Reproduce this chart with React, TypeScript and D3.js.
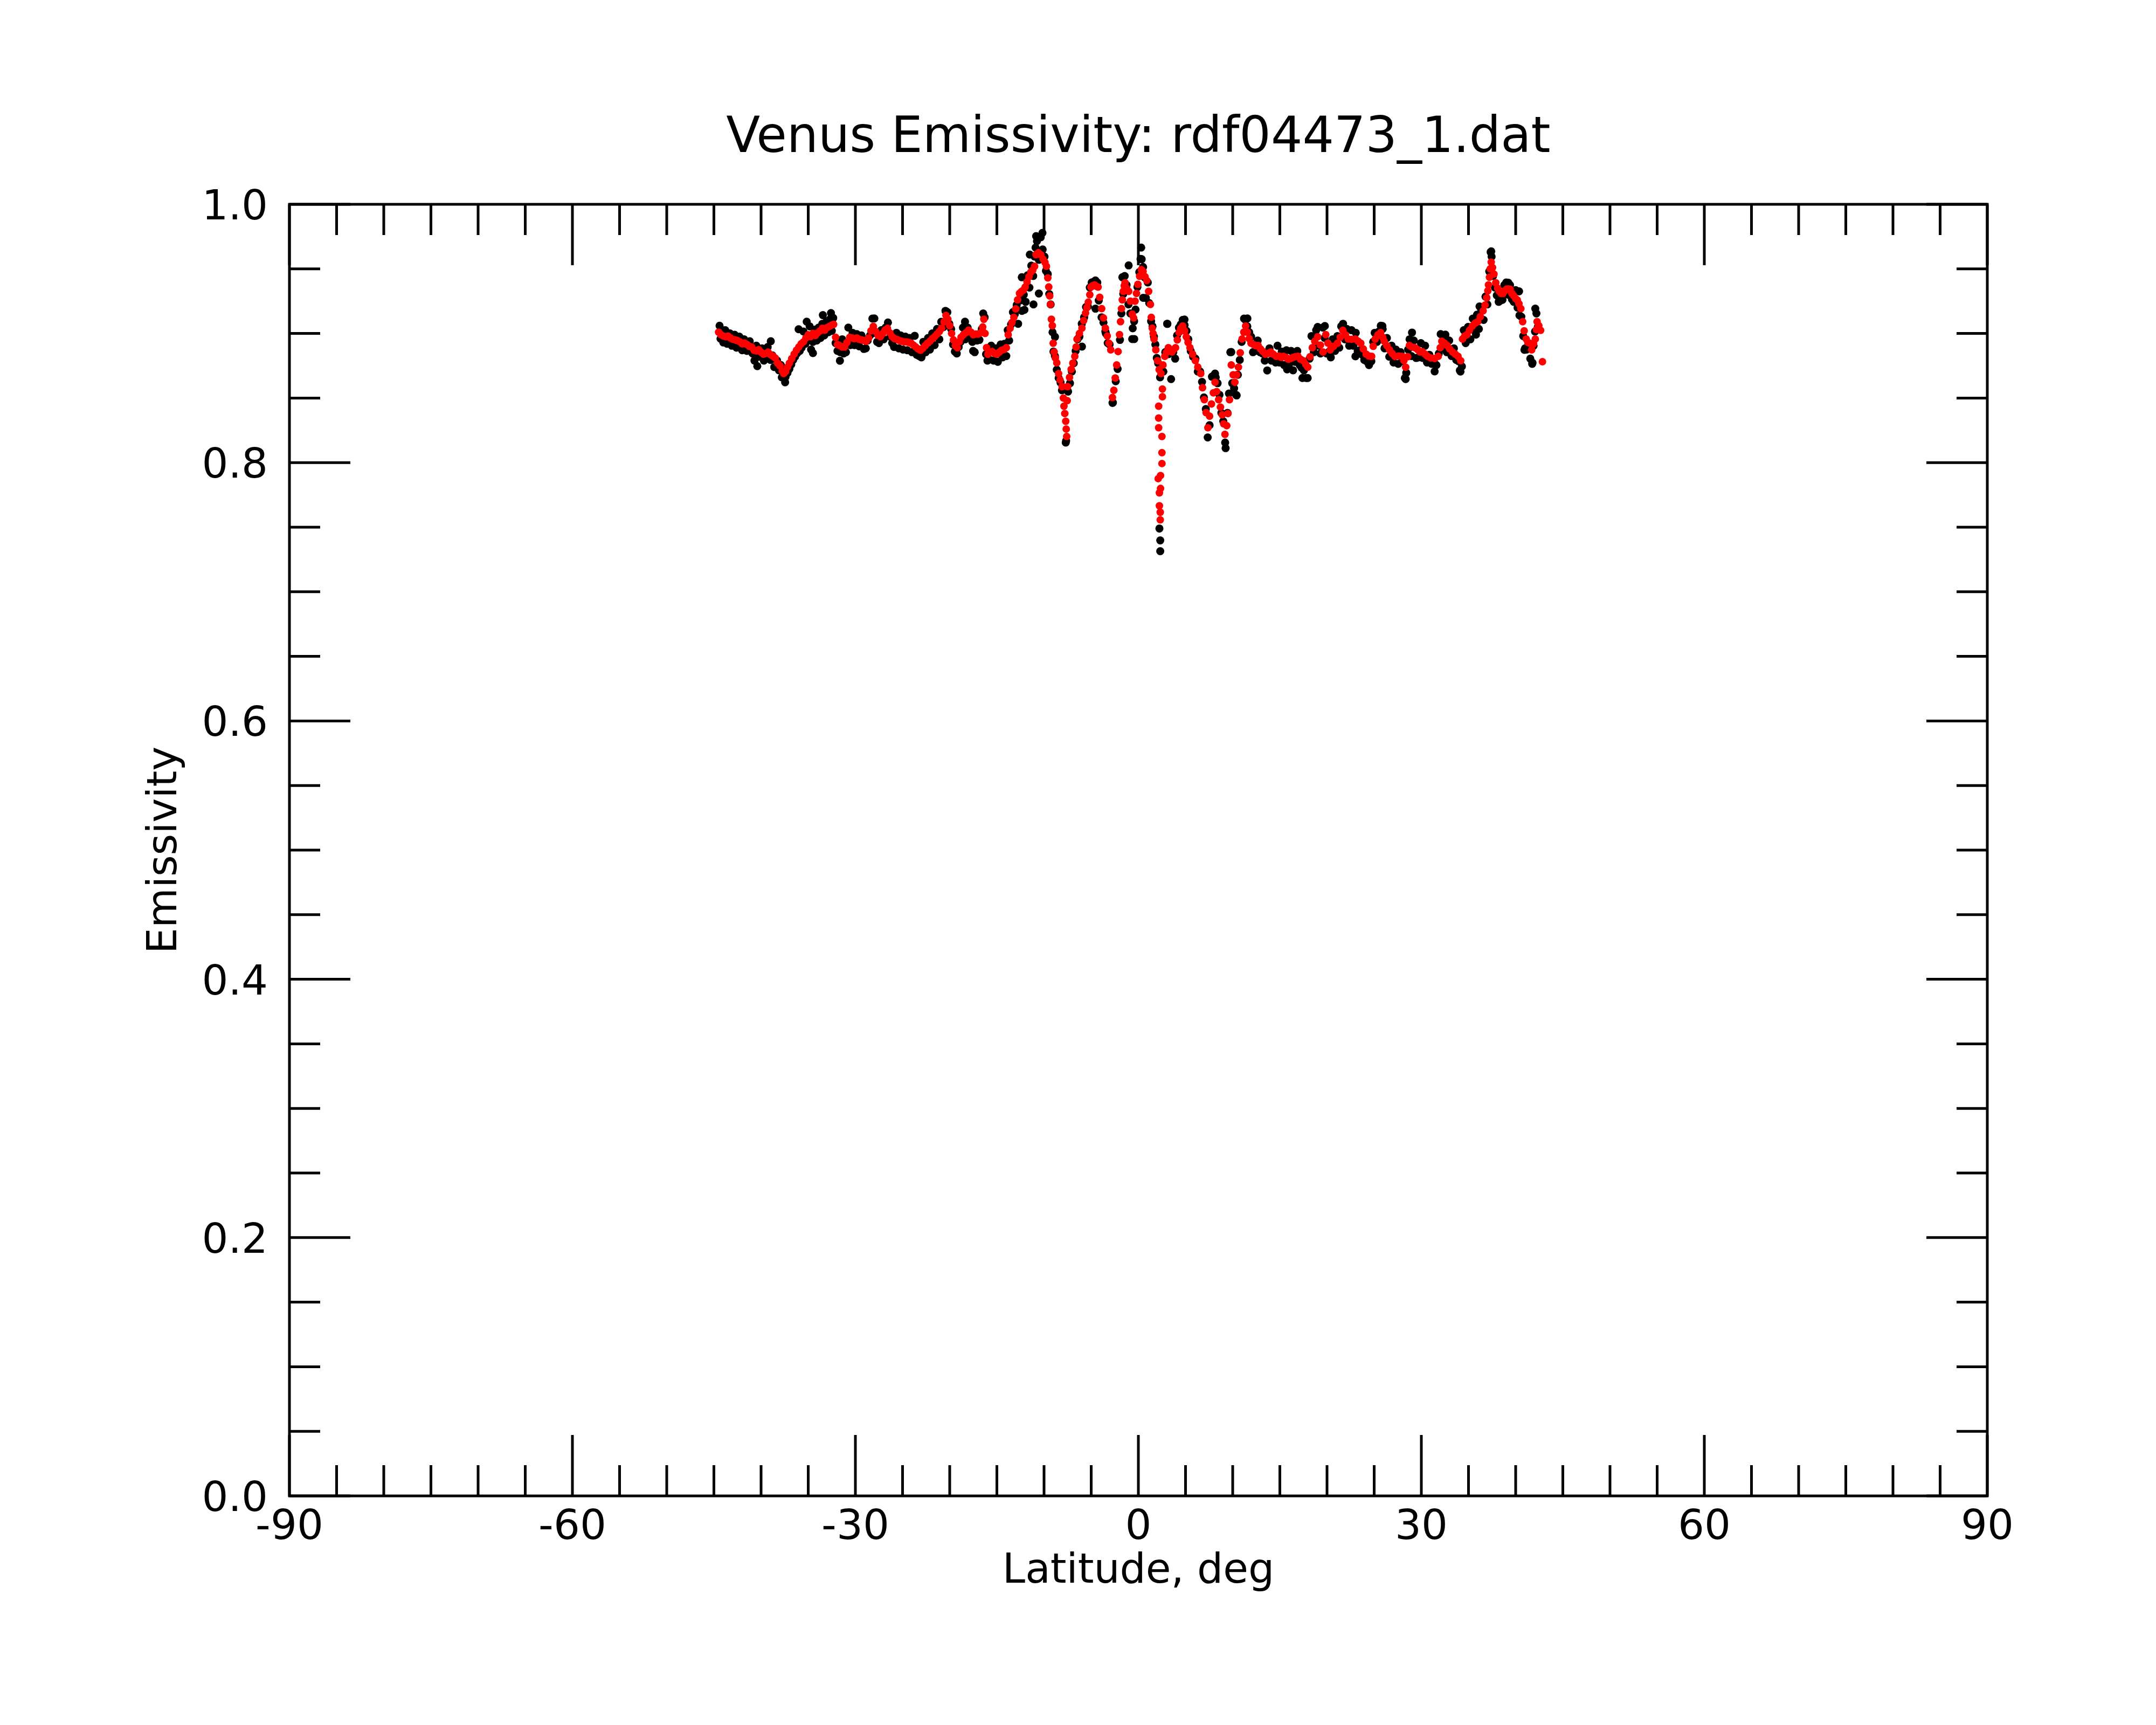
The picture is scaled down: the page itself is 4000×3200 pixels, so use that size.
import React from "react";
import * as d3 from "d3";

// ---- data ----
const titleText = "Venus Emissivity: rdf04473_1.dat";
const xLabel = "Latitude, deg";
const yLabel = "Emissivity";
const xMajorTicks = [-90, -60, -30, 0, 30, 60, 90];
const xTickLabels = ["-90", "-60", "-30", "0", "30", "60", "90"];
const yMajorTicks = [0.0, 0.2, 0.4, 0.6, 0.8, 1.0];
const yTickLabels = ["0.0", "0.2", "0.4", "0.6", "0.8", "1.0"];

// smoothed / second series (red)
const redPoints: [number, number][] = [
  [-44.5, .901], [-44.25, .899], [-44.0, .898], [-43.75, .8975], [-43.5, .898], [-43.25, .8965], [-43.0, .8955], [-42.75, .895], [-42.5, .8945], [-42.25, .8935], [-42.0, .892], [-41.75, .8925], [-41.5, .8915], [-41.25, .890], [-41.0, .8895], [-40.75, .887], [-40.5, .8865], [-40.25, .8875], [-40.0, .8855], [-39.75, .884], [-39.5, .8845], [-39.25, .8855], [-39.0, .8835], [-38.75, .8825], [-38.5, .881], [-38.25, .877], [-38.0, .875], [-37.75, .871], [-37.6, .869], [-37.4, .8705], [-37.2, .874], [-37.0, .877], [-36.75, .8805], [-36.5, .884], [-36.25, .887], [-36.0, .8895], [-35.75, .892], [-35.5, .8935], [-35.25, .8965], [-35.0, .899], [-34.75, .8975], [-34.5, .9], [-34.25, .8985], [-34.0, .9005], [-33.75, .902], [-33.5, .904], [-33.25, .9025], [-33.0, .9045], [-32.75, .9055], [-32.5, .9065], [-32.3, .907], [-32.1, .897], [-31.9, .8915], [-31.65, .8905], [-31.4, .8895], [-31.15, .8895],
  [-30.9, .893], [-30.6, .897], [-30.35, .8965], [-30.1, .896], [-29.85, .8965], [-29.6, .8955], [-29.35, .895], [-29.1, .8945], [-28.85, .894], [-28.6, .8965], [-28.35, .902], [-28.1, .9055], [-27.85, .9015], [-27.6, .8985], [-27.35, .8975], [-27.1, .900], [-26.85, .9025], [-26.6, .904], [-26.35, .9005], [-26.1, .8975], [-25.85, .896], [-25.6, .8955], [-25.35, .8945], [-25.1, .894], [-24.85, .8935], [-24.6, .8935], [-24.35, .893], [-24.1, .8925], [-23.85, .891], [-23.6, .8895], [-23.35, .888], [-23.1, .887], [-22.85, .8885], [-22.6, .8905], [-22.35, .8925], [-22.1, .894], [-21.85, .896], [-21.6, .8975], [-21.35, .8995], [-21.1, .9015], [-20.85, .904], [-20.6, .909], [-20.4, .914], [-20.2, .911], [-20.0, .906], [-19.8, .900], [-19.6, .895], [-19.4, .8905], [-19.2, .889], [-19.0, .8935], [-18.8, .897], [-18.55, .899], [-18.3, .9005], [-18.0, .9025], [-17.75, .901], [-17.5, .899], [-17.25, .8995], [-17.0, .8995], [-16.75, .9005], [-16.5, .905], [-16.38, .911], [-16.25, .9], [-16.1, .889], [-15.95, .884],
  [-15.75, .8855], [-15.5, .886], [-15.25, .8845], [-15.0, .884], [-14.75, .8855], [-14.5, .887], [-14.25, .8875], [-14.0, .889], [-13.8, .899], [-13.6, .904], [-13.4, .9085], [-13.2, .9125], [-13.0, .919], [-12.8, .926], [-12.6, .931], [-12.4, .9325], [-12.2, .9335], [-12.0, .936], [-11.8, .940], [-11.6, .944], [-11.4, .9475], [-11.2, .949], [-11.0, .952], [-10.85, .961], [-10.6, .9625], [-10.35, .961], [-10.1, .9575], [-9.9, .955], [-9.75, .952], [-9.6, .943], [-9.5, .936], [-9.4, .929], [-9.32, .9225], [-9.22, .911], [-9.12, .906], [-9.03, .8924], [-8.93, .8856], [-8.8, .881], [-8.65, .8773], [-8.46, .8689], [-8.3, .864], [-8.08, .8588], [-7.95, .850], [-7.89, .8437], [-7.8, .838], [-7.7, .832], [-7.65, .826], [-7.6, .8202], [-7.55, .848], [-7.5, .8588], [-7.3, .866], [-7.12, .8722], [-6.95, .877], [-6.74, .8823], [-6.6, .8895], [-6.5, .8957], [-6.25, .900], [-5.98, .9041], [-5.8, .910], [-5.6, .9158], [-5.45, .920], [-5.31, .9242], [-5.15, .930], [-5.03, .9359], [-4.85, .937], [-4.65, .9376], [-4.45, .9365], [-4.27, .9359], [-4.1, .928], [-3.89, .9192], [-3.7, .912], [-3.5, .9041], [-3.3, .898], [-3.12, .8924], [-2.93, .8873],
  [-2.75, .8504], [-2.6, .856], [-2.45, .8655], [-2.3, .8756], [-2.15, .886], [-2.0, .8991], [-1.89, .9091], [-1.79, .9192], [-1.7, .926], [-1.6, .9326], [-1.5, .937], [-1.41, .9393], [-1.25, .935], [-1.03, .9326], [-0.85, .925], [-0.65, .915], [-0.5, .912], [-0.35, .925], [-0.2, .931], [-0.05, .938], [0.13, .9443], [0.32, .9494], [0.5, .948], [0.7, .944], [0.89, .941], [1.09, .9326], [1.28, .9225], [1.37, .9125], [1.47, .9041], [1.56, .9], [1.66, .8957], [1.85, .8873], [2.04, .8789], [2.2, .872], [2.4, .8689],
  [2.55, .857], [2.55, .851], [2.15, .8437], [2.15, .8345], [2.15, .827], [2.5, .8202], [2.5, .8077], [2.5, .7993], [2.1, .7876], [2.35, .790], [2.23, .7766], [2.35, .780], [2.23, .7666], [2.32, .7616], [2.32, .7557],
  [2.61, .8756], [2.8, .8823], [3.0, .8855], [3.18, .889], [3.37, .887], [3.56, .8856], [3.75, .8875], [3.94, .889], [4.13, .895], [4.32, .9007], [4.5, .904], [4.7, .9058], [4.9, .902], [5.08, .8974], [5.27, .893], [5.47, .889], [5.75, .884], [6.04, .8789], [6.3, .874], [6.61, .8689], [6.8, .858], [6.99, .8487], [7.18, .8387], [7.37, .827], [7.55, .836], [7.75, .8454], [7.95, .854], [8.13, .8622], [8.3, .855], [8.51, .8487], [8.7, .843], [8.89, .837], [9.05, .830], [9.18, .8219], [9.37, .8286], [9.5, .838], [9.66, .8487], [9.85, .8756], [10.05, .868], [10.23, .8622], [10.42, .868], [10.61, .8739], [10.8, .885], [10.99, .8957], [11.18, .901], [11.37, .9058], [11.55, .901], [11.75, .896], [11.94, .8924], [12.2, .8915], [12.45, .8905], [12.7, .8907], [12.95, .888], [13.2, .886], [13.47, .884], [13.75, .8845], [14.04, .8856], [14.3, .884], [14.61, .8823],
  [14.9, .8825], [15.15, .8815], [15.39, .8823], [15.65, .8815], [15.9, .880], [16.15, .8806], [16.4, .8815], [16.65, .882], [16.92, .8823], [17.2, .880], [17.49, .8789], [17.75, .876], [17.96, .8739], [18.2, .882], [18.44, .889], [18.7, .894], [19.01, .8974], [19.3, .891], [19.58, .8856], [19.87, .8991], [20.1, .8925], [20.34, .8873], [20.7, .890], [21.11, .8924], [21.4, .897], [21.68, .9024], [21.95, .899], [22.25, .8957], [22.6, .8955], [23.01, .8957], [23.3, .894], [23.58, .8924], [23.85, .888], [24.15, .884], [24.45, .8825], [24.73, .8823], [24.9, .890], [25.11, .8957], [25.4, .899], [25.68, .9007], [25.9, .897], [26.06, .894], [26.35, .8905], [26.63, .8873], [26.9, .8845], [27.2, .8823], [27.6, .8825], [27.96, .8823], [28.15, .879], [28.34, .8739], [28.55, .882], [28.73, .8907], [29.0, .8895], [29.3, .889], [29.6, .8875], [29.87, .8856],
  [30.1, .886], [30.4, .884], [30.65, .8823], [31.0, .881], [31.41, .8806], [31.79, .8823], [32.0, .889], [32.17, .894], [32.45, .8925], [32.74, .8907], [33.0, .888], [33.31, .8856], [33.6, .884], [33.89, .8823], [34.17, .8789], [34.36, .8957], [34.6, .898], [34.84, .8991], [35.1, .9025], [35.41, .9058], [35.7, .908], [35.98, .9091], [36.25, .913], [36.55, .9175], [36.75, .922], [36.93, .9276], [37.05, .933], [37.12, .9376], [37.22, .9435], [37.3, .950], [37.41, .9552], [37.55, .951], [37.7, .946], [37.89, .9393], [38.1, .935], [38.27, .9326], [38.45, .931], [38.65, .9309], [38.85, .933], [39.03, .9343], [39.2, .9345], [39.41, .9343], [39.6, .931], [39.79, .9292], [40.0, .927], [40.17, .9259], [40.35, .923], [40.55, .9192], [40.74, .9091], [40.9, .902], [41.12, .8957], [41.3, .893], [41.5, .8924], [41.7, .8873], [41.9, .892], [42.08, .8957], [42.2, .903], [42.27, .9091], [42.45, .906], [42.65, .9024], [42.84, .8781],
];

// raw series (black)
const blackPoints: [number, number][] = [
  [-44.4, .906], [-44.3, .896], [-44.0, .893], [-43.8, .9025], [-43.6, .892], [-43.3, .900], [-43.1, .8905], [-42.8, .899], [-42.6, .889], [-42.3, .8975], [-42.0, .887], [-41.8, .8955], [-41.5, .8865], [-41.2, .894], [-40.9, .8845], [-40.7, .879], [-40.5, .8905], [-40.2, .882], [-39.9, .8885], [-39.7, .879], [-39.5, .8805], [-39.3, .8895], [-39.0, .8795], [-38.8, .883], [-38.6, .874], [-38.3, .879], [-38.1, .8715], [-37.9, .8755], [-37.8, .866], [-37.55, .8655], [-37.4, .8665], [-37.2, .8695], [-37.0, .8725], [-36.8, .876], [-36.6, .8795], [-36.4, .882], [-36.2, .8845], [-35.9, .8865], [-35.7, .889], [-35.5, .9015], [-35.3, .892], [-35.0, .8945], [-34.85, .9055], [-34.7, .8875], [-34.5, .8935], [-34.3, .903], [-34.1, .8945], [-33.9, .9045], [-33.7, .8965], [-33.5, .9075], [-33.3, .8985], [-33.05, .9095], [-32.85, .901], [-32.7, .911], [-32.5, .902], [-32.35, .912], [-32.1, .8925], [-31.9, .8865], [-31.6, .8855], [-31.4, .8955], [-31.25, .8845],
  [-40.4, .8747], [-38.97, .894], [-37.45, .8622], [-35.16, .9091], [-34.5, .8848], [-33.45, .9142], [-32.59, .9158], [-31.64, .8789], [-36.02, .9033],
  [-31.0, .8855], [-30.75, .9045], [-30.55, .891], [-30.3, .9005], [-30.1, .891], [-29.85, .8995], [-29.6, .890], [-29.35, .8985], [-29.1, .888], [-28.9, .8885], [-28.7, .8945], [-28.45, .8985], [-28.2, .9115], [-28.0, .9005], [-27.7, .8935], [-27.5, .8925], [-27.25, .9025], [-27.0, .8955], [-26.8, .9045], [-26.55, .9085], [-26.3, .8975], [-26.1, .8925], [-25.9, .8895], [-25.65, .9005], [-25.4, .8885], [-25.2, .8985], [-24.95, .8875], [-24.7, .8975], [-24.5, .887], [-24.25, .8965], [-24.0, .8855], [-23.75, .8855], [-23.5, .8835], [-23.25, .8825], [-23.0, .8815], [-22.8, .8935], [-22.55, .8855], [-22.3, .8965], [-22.1, .8875], [-21.85, .900], [-21.6, .891], [-21.35, .9035], [-21.1, .8955], [-20.9, .909], [-20.65, .905], [-20.45, .9175], [-20.25, .9165], [-20.05, .9075], [-19.85, .9035], [-19.65, .8915], [-19.45, .886], [-19.25, .8845], [-19.05, .8895], [-18.85, .8935], [-18.6, .9045], [-18.35, .8955], [-18.1, .9045], [-17.85, .8965], [-17.6, .8935], [-17.35, .8855], [-17.1, .8945], [-16.85, .895], [-16.6, .9035], [-16.45, .9155], [-16.3, .9125], [-16.15, .884], [-16.0, .879],
  [-27.99, .9116], [-23.71, .8982], [-22.95, .8831], [-18.38, .9091], [-17.52, .8865],
  [-15.85, .880], [-15.6, .8905], [-15.35, .879], [-15.1, .8885], [-14.9, .878], [-14.6, .8915], [-14.4, .8815], [-14.2, .892], [-14.0, .8825], [-13.85, .9025], [-13.7, .8945], [-13.5, .907], [-13.3, .9165], [-13.1, .915], [-12.9, .922], [-12.75, .9075], [-12.55, .9255], [-12.35, .9175], [-12.15, .930], [-11.95, .9245], [-11.75, .945], [-11.55, .9355], [-11.35, .9525], [-11.15, .9445], [-11.0, .9595], [-10.9, .9665], [-10.75, .9715], [-10.55, .957], [-10.35, .9745], [-10.15, .965], [-9.95, .9595], [-9.8, .9485], [-9.6, .946], [-9.45, .9305], [-9.3, .9225], [-9.1, .901], [-9.0, .886], [-8.85, .8825], [-8.65, .872], [-8.45, .8655], [-8.25, .862], [-8.1, .856], [-7.7, .8155], [-7.45, .855], [-7.25, .8615], [-7.05, .8705], [-6.85, .877], [-6.65, .8865], [-6.45, .8955], [-6.25, .8975], [-6.0, .9075], [-5.75, .9125], [-5.55, .9205], [-5.35, .921], [-5.15, .9355], [-4.95, .9395], [-4.75, .940], [-4.55, .941], [-4.35, .9395], [-4.2, .9255], [-3.9, .9125], [-3.7, .9085], [-3.45, .900], [-3.25, .8925], [-3.05, .8915], [-2.7, .8465], [-2.4, .863], [-2.2, .8725], [-1.95, .895], [-1.8, .9155], [-1.6, .9305], [-1.45, .9445], [-1.25, .9375], [-1.05, .9225], [-0.85, .9155],
  [-10.84, .9754], [-10.17, .9779], [-11.51, .9611], [-12.36, .9435], [-12.08, .9183], [-11.12, .9225], [-10.55, .9309], [-1.03, .9527], [-1.7, .9435], [-0.65, .8957], [-2.74, .8462], [-7.66, .8169], [-8.84, .8974], [-4.55, .9192], [-3.5, .9016], [-5.98, .8898],
  [-0.6, .904], [-0.45, .9095], [-0.3, .9185], [-0.1, .936], [0.1, .9475], [0.3, .9665], [0.35, .9575], [0.5, .9515], [0.65, .9435], [0.8, .9275], [1.0, .9395], [1.15, .9235], [1.35, .9095], [1.5, .9055], [1.65, .8975], [1.8, .8915], [1.95, .881], [2.1, .877], [2.3, .866], [2.23, .749], [2.32, .7398], [2.32, .7314], [2.65, .8705], [2.85, .8855], [3.05, .9075], [3.2, .884], [3.45, .8865], [3.7, .8855], [3.9, .8805], [4.1, .8985], [4.3, .9045], [4.5, .907], [4.7, .9105], [4.9, .9065], [5.1, .902], [5.3, .8955], [5.55, .8865], [5.8, .882], [6.05, .8805], [6.3, .8705], [6.55, .8705], [6.75, .8625], [6.95, .8505], [7.15, .8415], [7.35, .8195], [7.55, .829], [7.8, .8665], [8.0, .8675], [8.2, .866], [8.4, .8615], [8.6, .8525], [8.8, .8385], [9.0, .832], [9.2, .8155], [9.25, .8112], [9.45, .8385], [9.6, .8535], [9.75, .8855], [9.95, .8615], [10.15, .8575], [10.35, .8525], [10.55, .868], [10.75, .8795], [10.95, .8935], [11.2, .9115], [11.35, .9105], [11.55, .9055], [11.75, .901], [11.95, .8975], [12.15, .8855], [12.4, .8865], [12.65, .8945], [12.9, .8855], [13.15, .8845], [13.4, .879], [13.65, .8855], [13.9, .8885], [14.1, .879], [14.35, .880], [14.55, .8775],
  [3.08, .9074], [4.89, .9108], [3.47, .8647], [8.13, .8689], [9.85, .8856], [10.42, .852], [11.56, .9116], [13.66, .8714], [0.51, .9276], [0.23, .9577], [-0.44, .8957],
  [14.75, .8905], [14.95, .8775], [15.2, .886], [15.45, .8755], [15.7, .887], [15.95, .8755], [16.2, .8865], [16.4, .8715], [16.6, .878], [16.85, .8865], [17.1, .8755], [17.3, .8735], [17.55, .8715], [17.8, .8655], [17.95, .8655], [18.15, .8805], [18.35, .898], [18.6, .8855], [18.85, .9025], [19.1, .8905], [19.3, .8845], [19.55, .9045], [19.75, .8965], [19.95, .8845], [20.15, .8855], [20.4, .8815], [20.6, .8955], [20.85, .8865], [21.1, .898], [21.3, .889], [21.5, .9055], [21.7, .9075], [21.9, .8955], [22.1, .9035], [22.35, .8905], [22.6, .9025], [22.8, .8905], [23.05, .9005], [23.25, .8865], [23.5, .887], [23.75, .8835], [23.95, .8795], [24.2, .8785], [24.45, .8755], [24.7, .8785], [24.9, .8935], [25.05, .9005], [25.3, .8935], [25.5, .9015], [25.7, .906], [25.9, .9035], [26.1, .8885], [26.35, .8965], [26.6, .882], [26.85, .8905], [27.05, .8775], [27.3, .8875], [27.55, .8765], [27.8, .8855], [28.0, .8785], [28.25, .8655], [28.4, .8695], [28.6, .8875], [28.75, .8955], [28.95, .8825], [29.2, .8945], [29.45, .881], [29.7, .8815],
  [17.39, .8655], [19.01, .905], [19.77, .9058], [21.68, .9066], [23.01, .8823], [25.87, .9058], [28.34, .8647], [29.01, .9007], [15.77, .8722],
  [29.95, .8925], [30.15, .881], [30.4, .8905], [30.6, .8775], [30.85, .8835], [31.1, .8765], [31.35, .8775], [31.6, .8755], [31.85, .8845], [32.05, .8995], [32.25, .8885], [32.5, .8975], [32.7, .8855], [32.95, .8945], [33.2, .8825], [33.45, .8885], [33.7, .8795], [33.95, .8785], [34.15, .8705], [34.3, .8745], [34.5, .9025], [34.7, .8925], [34.95, .905], [35.2, .8955], [35.45, .9115], [35.65, .902], [35.9, .9145], [36.1, .9035], [36.35, .9185], [36.6, .9105], [36.8, .9285], [37.0, .9225], [37.2, .948], [37.35, .963], [37.45, .9595], [37.6, .9445], [37.8, .9355], [38.0, .9295], [38.2, .9245], [38.4, .9255], [38.6, .926], [38.8, .9375], [39.0, .9395], [39.2, .930], [39.4, .9375], [39.6, .9265], [39.8, .9245], [40.0, .9335], [40.2, .920], [40.4, .914], [40.6, .913], [40.8, .898], [41.0, .8885], [41.15, .8875], [41.35, .8915], [41.55, .8805], [41.75, .8765], [41.9, .8905], [42.05, .9015], [42.2, .9155], [42.35, .905],
  [37.41, .9636], [38.27, .9259], [39.22, .9393], [40.36, .9326], [42.08, .9192], [41.79, .8773], [40.93, .8873], [34.08, .8714], [31.41, .8706], [32.55, .8991], [36.17, .9209], [35.79, .8991],
];

// ---- layout ----
const W = 4000;
const H = 3200;
const left = 537;
const right = 3687;
const top = 379;
const bottom = 2775;
const font = "'DejaVu Sans', sans-serif";

export default function App() {
  const x = d3.scaleLinear().domain([-90, 90]).range([left, right]);
  const y = d3.scaleLinear().domain([0, 1]).range([bottom, top]);
  const xMinor = d3.range(-90, 90.001, 5);
  const yMinor = d3.range(0, 1.0001, 0.05);
  const majorLen = 113;
  const minorLen = 57;
  const sw = 5;
  const blackR = 7.5;
  const redR = 7;
  const isXMajor = (v: number) => Math.abs(v % 30) < 1e-6;
  const isYMajor = (v: number) => Math.abs(Math.round(v * 100) % 20) < 1e-6;

  return (
    <svg
      width={W}
      height={H}
      viewBox={`0 0 ${W} ${H}`}
      style={{ position: "absolute", left: 0, top: 0, background: "#fff" }}
    >
      <rect x={0} y={0} width={W} height={H} fill="#fff" />
      {/* title */}
      <text x={(left + right) / 2} y={282} textAnchor="middle" fontFamily={font} fontSize={92} fill="#000">
        {titleText}
      </text>

      {/* data: black first, then red */}
      <g>
        {blackPoints.map((p, i) => (
          <circle key={"b" + i} cx={x(p[0])} cy={y(p[1])} r={blackR} fill="#000" />
        ))}
      </g>
      <g>
        {redPoints.map((p, i) => (
          <circle key={"r" + i} cx={x(p[0])} cy={y(p[1])} r={redR} fill="#ff0000" />
        ))}
      </g>

      {/* ticks */}
      <g stroke="#000" strokeWidth={sw}>
        {xMinor.map((v) => {
          const len = isXMajor(v) ? majorLen : minorLen;
          const xx = x(v);
          return (
            <g key={"xt" + v}>
              <line x1={xx} x2={xx} y1={bottom} y2={bottom - len} />
              <line x1={xx} x2={xx} y1={top} y2={top + len} />
            </g>
          );
        })}
        {yMinor.map((v) => {
          const len = isYMajor(v) ? majorLen : minorLen;
          const yy = y(v);
          return (
            <g key={"yt" + v.toFixed(2)}>
              <line x1={left} x2={left + len} y1={yy} y2={yy} />
              <line x1={right} x2={right - len} y1={yy} y2={yy} />
            </g>
          );
        })}
      </g>

      {/* frame */}
      <rect
        x={left}
        y={top}
        width={right - left}
        height={bottom - top}
        fill="none"
        stroke="#000"
        strokeWidth={sw}
        strokeLinejoin="miter"
        strokeLinecap="square"
      />

      {/* tick labels */}
      <g fontFamily={font} fontSize={77} fill="#000">
        {xMajorTicks.map((v, i) => (
          <text key={"xl" + v} x={x(v)} y={bottom + 80} textAnchor="middle">
            {xTickLabels[i]}
          </text>
        ))}
        {yMajorTicks.map((v, i) => (
          <text key={"yl" + v} x={left - 40} y={y(v) + 28} textAnchor="end">
            {yTickLabels[i]}
          </text>
        ))}
      </g>

      {/* axis labels */}
      <text x={(left + right) / 2} y={2936} textAnchor="middle" fontFamily={font} fontSize={76} fill="#000">
        {xLabel}
      </text>
      <text
        transform={`translate(327, ${(top + bottom) / 2}) rotate(-90)`}
        textAnchor="middle"
        fontFamily={font}
        fontSize={76}
        fill="#000"
      >
        {yLabel}
      </text>
    </svg>
  );
}
